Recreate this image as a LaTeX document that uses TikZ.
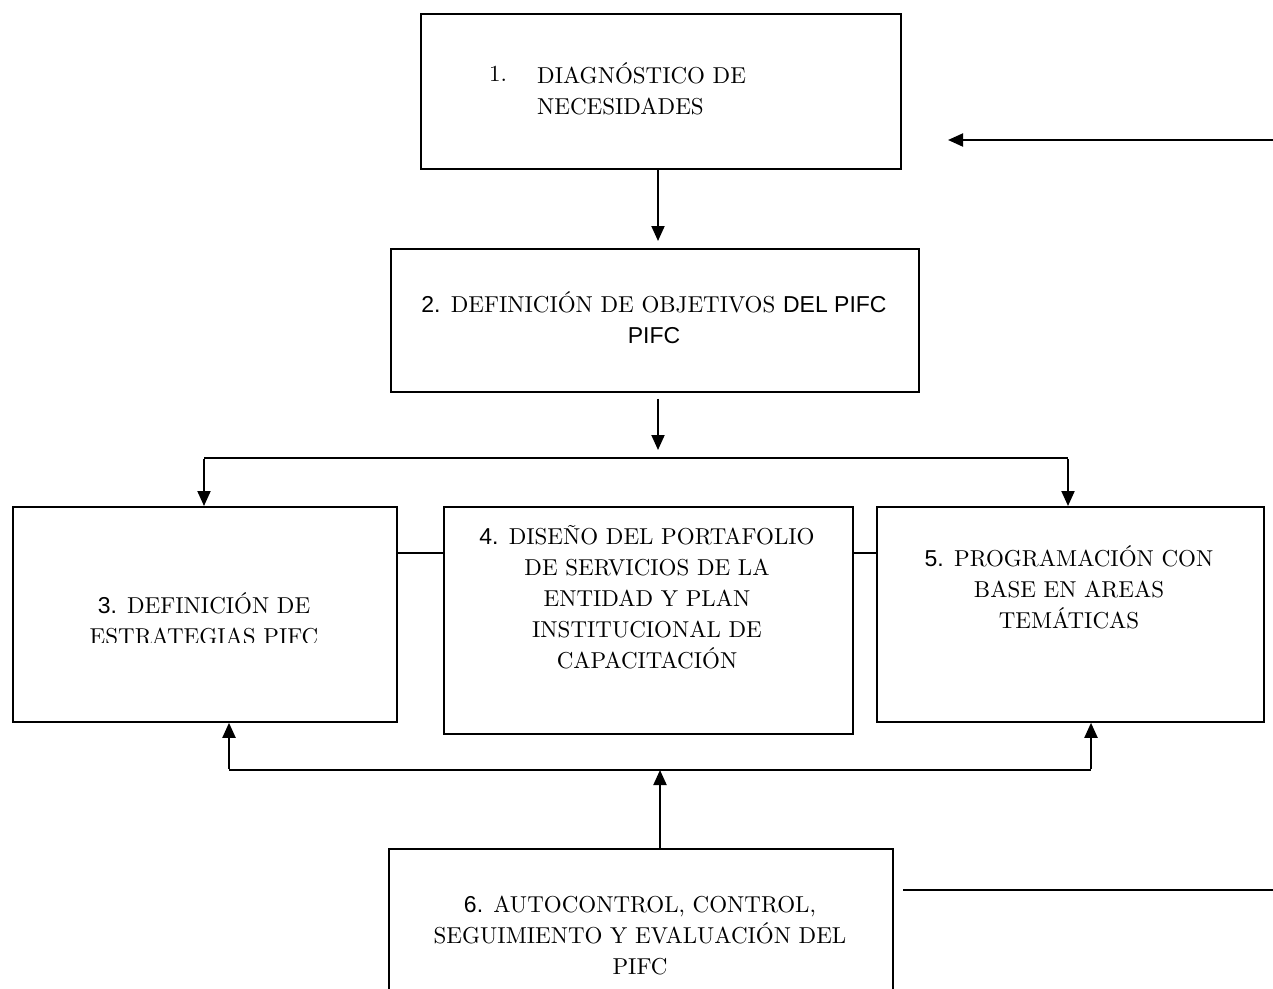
\documentclass[tikz,border=0pt]{standalone}
\usepackage{fontspec}
\setmainfont{lmroman10-regular.otf}
\newfontfamily\arialf{Liberation Sans}
\usetikzlibrary{arrows.meta}
\begin{document}
\begin{tikzpicture}[x=1pt,y=-1pt,
  box/.style={draw,line width=1.8pt,inner sep=0pt,anchor=north west},
  txt/.style={font=\fontsize{23}{31}\selectfont,align=center,inner sep=0pt},
  conn/.style={line width=2pt},
  arr/.style={conn,-{Triangle[length=15pt,width=13pt]}}]
\clip (0,0) rectangle (1273,988);
% boxes
\node[box,minimum width=480pt,minimum height=155pt] (b1) at (420,13) {};
\node[box,minimum width=528pt,minimum height=143pt] (b2) at (390,248) {};
\node[box,minimum width=384pt,minimum height=215pt] (b3) at (12,506) {};
\node[box,minimum width=409pt,minimum height=227pt] (b4) at (443,506) {};
\node[box,minimum width=387pt,minimum height=215pt] (b5) at (876,506) {};
\node[box,minimum width=504pt,minimum height=170pt] (b6) at (388,848) {};
% texts
\node[txt,anchor=west] (t1n) at (489,74) {1.};
\node[txt,anchor=west,align=left] (t1) at (537,89) {DIAGNÓSTICO DE\\NECESIDADES};
\node[txt] (t2) at (654,318) {{\arialf 2.} DEFINICIÓN DE OBJETIVOS {\arialf DEL PIFC}\\{\arialf PIFC}};
\begin{scope}
\clip (12,506) rectangle (396,642);
\node[txt] (t3) at (204,619) {{\arialf 3.} DEFINICIÓN DE\\ESTRATEGIAS PIFC};
\end{scope}
\node[txt] (t4) at (647,597) {{\arialf 4.} DISEÑO DEL PORTAFOLIO\\DE SERVICIOS DE LA\\ENTIDAD Y PLAN\\INSTITUCIONAL DE\\CAPACITACIÓN};
\node[txt] (t5) at (1069,587) {{\arialf 5.} PROGRAMACIÓN CON\\BASE EN AREAS\\TEMÁTICAS};
\node[txt] (t6) at (640,936) {{\arialf 6.} AUTOCONTROL, CONTROL,\\SEGUIMIENTO Y EVALUACIÓN DEL\\PIFC};
% coordinates
\coordinate (j2) at (658,458);
\coordinate (j3l) at (204,458);
\coordinate (j3r) at (1068,458);
\coordinate (j4l) at (229,770);
\coordinate (j4r) at (1091,770);
\coordinate (j6) at (660,770);
\coordinate (s34) at (0,553);
\coordinate (r1) at (1280,140);
\coordinate (r1e) at (948,140);
\coordinate (r2s) at (903,890);
\coordinate (r2e) at (1280,890);
% connectors
\draw[arr,shorten >=7pt] (j2 |- b1.south) -- (j2 |- b2.north);
\draw[arr,shorten >=8pt,shorten <=6pt] (j2 |- b2.south) -- (j2);
\draw[conn] (j3l) -- (j3r);
\draw[arr] ([yshift=-1pt]j3l) -- (j3l |- b3.north);
\draw[arr] ([yshift=-1pt]j3r) -- (j3r |- b5.north);
\draw[conn] (j4l) -- (j4r);
\draw[arr] ([yshift=1pt]j4l) -- (j4l |- b3.south);
\draw[arr] ([yshift=1pt]j4r) -- (j4r |- b5.south);
\draw[arr] (j6 |- b6.north) -- (j6);
\draw[conn,line width=1.5pt] (b3.east |- s34) -- (b4.west |- s34);
\draw[conn,line width=1.5pt] (b4.east |- s34) -- (b5.west |- s34);
\draw[arr] (r1) -- (r1e);
\draw[conn] (r2s) -- (r2e);
\end{tikzpicture}
\end{document}
